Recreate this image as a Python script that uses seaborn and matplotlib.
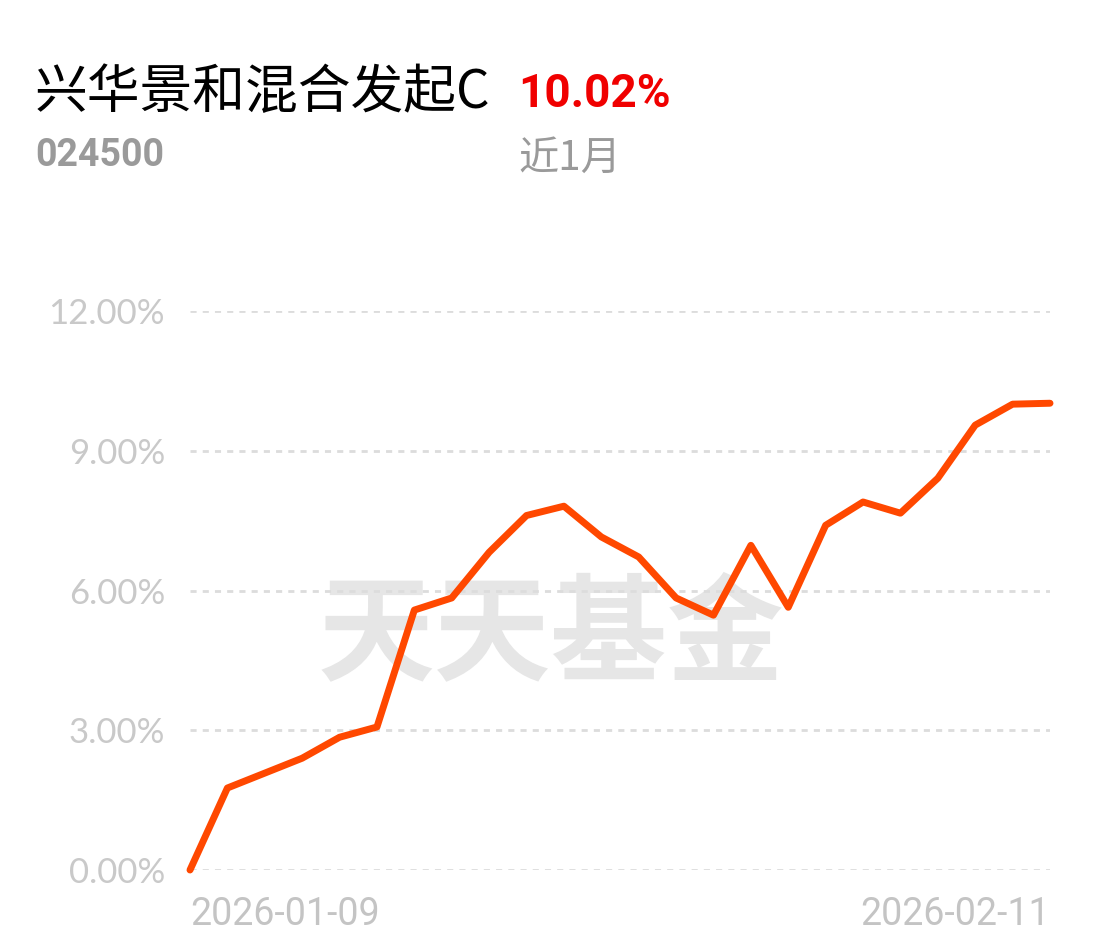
import matplotlib
matplotlib.use("Agg")
import matplotlib.pyplot as plt
import seaborn as sns
from matplotlib.ticker import FuncFormatter

# trading days, 2026-01-09 .. 2026-02-11
dates = ["2026-01-09", "2026-01-12", "2026-01-13", "2026-01-14", "2026-01-15",
         "2026-01-16", "2026-01-19", "2026-01-20", "2026-01-21", "2026-01-22",
         "2026-01-23", "2026-01-26", "2026-01-27", "2026-01-28", "2026-01-29",
         "2026-01-30", "2026-02-02", "2026-02-03", "2026-02-04", "2026-02-05",
         "2026-02-06", "2026-02-09", "2026-02-10", "2026-02-11"]
returns = [0.00, 1.76, 2.08, 2.40, 2.85, 3.07, 5.58, 5.84, 6.82, 7.61,
           7.81, 7.15, 6.72, 5.84, 5.47, 6.97, 5.64, 7.40, 7.90, 7.66,
           8.41, 9.55, 10.00, 10.02]
yticks = [0, 3, 6, 9, 12]

fund_name = "兴华景和混合发起C"
fund_code = "024500"
period_ret = "10.02%"
period = "近1月"

sns.set_style("white")
plt.rcParams['font.family'] = ['Noto Sans CJK SC', 'DejaVu Sans']

fig = plt.figure(figsize=(11.02, 9.5), dpi=100)
ax = fig.add_axes([190/1102, 80/950, 860/1102, 559/950])

x = list(range(len(dates)))
sns.lineplot(x=x, y=returns, ax=ax, color="#ff4800", linewidth=5, zorder=3,
             solid_joinstyle="round", solid_capstyle="round")
for l in ax.lines:
    l.set_clip_on(False)

ax.set_xlim(0, len(dates) - 1)
ax.set_ylim(0, 12)
ax.set_yticks(yticks)
ax.yaxis.set_major_formatter(FuncFormatter(lambda v, p: f"{v:.2f}%"))
ax.grid(axis="y", color="#dcdcdc", linestyle=(0, (2.2, 2.2)), linewidth=2, zorder=1)
ax.grid(axis="x", visible=False)
for s in ax.spines.values():
    s.set_visible(False)
ax.tick_params(axis="y", length=0, pad=18, labelsize=25, labelcolor="#c9c9c9")
for t in ax.get_yticklabels():
    t.set_family(["Lato", "DejaVu Sans"])

ax.set_xticks([0, len(dates) - 1])
ax.set_xticklabels([dates[0], dates[-1]])
ax.tick_params(axis="x", length=0, pad=19, labelsize=27, labelcolor="#c4c4c4")
xl = ax.get_xticklabels()
xl[0].set_ha("left")
xl[-1].set_ha("right")
for t in xl:
    t.set_family(["Roboto", "DejaVu Sans"])
ax.set_xlabel("")
ax.set_ylabel("")

# watermark
ax.text(551/1102, 1 - 637/950, "天天基金", transform=fig.transFigure, ha="center", va="center",
        fontsize=84, fontweight="bold", color="#e6e6e6", zorder=0,
        family=["Noto Sans CJK SC"])

# header
fig.text(35/1102, 1 - 93/950, fund_name, fontsize=38, color="black", va="center", ha="left",
         family=["Noto Sans CJK SC", "DejaVu Sans"])
fig.text(518/1102, 1 - 94/950, period_ret, fontsize=33, color="#f00000", va="center", ha="left",
         fontweight="bold", family=["Roboto", "DejaVu Sans"])
fig.text(35/1102, 1 - 156/950, fund_code, fontsize=27, color="#9a9a9a", va="center", ha="left",
         fontweight="bold", family=["Roboto", "DejaVu Sans"])
fig.text(518/1102, 1 - 158/950, period, fontsize=29, color="#9a9a9a", va="center", ha="left",
         family=["Noto Sans CJK SC", "DejaVu Sans"])

fig.savefig("out.png", dpi=100, facecolor="white")
